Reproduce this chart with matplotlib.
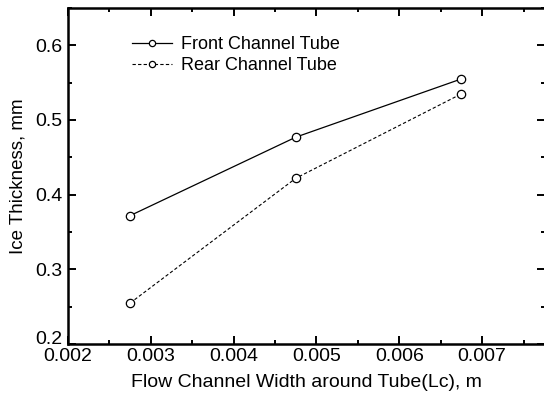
import numpy as np
import matplotlib
matplotlib.use('Agg')
import matplotlib.pyplot as plt
import matplotlib.transforms as mtransforms
from matplotlib.ticker import MultipleLocator

plt.rcParams['font.family'] = ['Liberation Sans', 'DejaVu Sans']

# ---Data
width = [0.00275, 0.00475, 0.00675]
front = [0.372, 0.477, 0.555]
rear = [0.255, 0.422, 0.535]

fig = plt.figure(figsize=(5.44, 3.96), dpi=100)
ax = fig.add_axes([0.125, 0.131, 0.877, 0.849])

ax.plot(width, front, '-', color='black', lw=0.9, marker='o', ms=6,
        mfc='white', mec='black', mew=0.9, label='Front Channel Tube')
ax.plot(width, rear, color='black', lw=0.8, dashes=(3, 2), marker='o', ms=6,
        mfc='white', mec='black', mew=0.9, label='Rear Channel Tube')

ax.set_xlim(0.002, 0.00776)
ax.set_ylim(0.2, 0.65)
ax.xaxis.set_minor_locator(MultipleLocator(0.0005))
ax.yaxis.set_minor_locator(MultipleLocator(0.05))
ax.set_xticks([0.002, 0.003, 0.004, 0.005, 0.006, 0.007])
ax.set_xticklabels(['0.002', '0.003', '0.004', '0.005', '0.006', '0.007'])
ax.set_yticks([0.2, 0.3, 0.4, 0.5, 0.6])
ax.set_yticklabels(['0.2', '0.3', '0.4', '0.5', '0.6'])
ax.tick_params(which='both', direction='in', top=True, right=True,
               labelsize=14, width=1.4)
ax.tick_params(which='major', length=6)
ax.tick_params(axis='x', which='major', pad=3)
ax.tick_params(axis='y', which='major', pad=4)
ax.tick_params(which='minor', length=3)
for s in ax.spines.values():
    s.set_linewidth(1.8)

# lift the bottom y label a little, as in the original
lab = ax.get_yticklabels()[0]
lab.set_transform(lab.get_transform() +
                  mtransforms.ScaledTranslation(0, 5 / 72., fig.dpi_scale_trans))

ax.set_xlabel('Flow Channel Width around Tube(Lc), m', fontsize=14, labelpad=6)
ax.set_ylabel('Ice Thickness, mm', fontsize=13.5, labelpad=6)

leg = ax.legend(loc='upper left', bbox_to_anchor=(0.1, 0.965), frameon=False,
                fontsize=13, handlelength=2.2, handletextpad=0.5,
                labelspacing=0.25, markerscale=0.75)

fig.savefig('out.png', dpi=100)
